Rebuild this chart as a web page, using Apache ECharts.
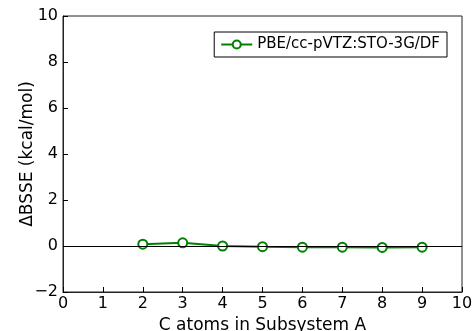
<!DOCTYPE html>
<html>
<head>
<meta charset="utf-8">
<script src="https://cdn.jsdelivr.net/npm/echarts@6/dist/echarts.min.js"></script>
<style>
  html, body { margin: 0; padding: 0; background: #fff; }
  #chart { width: 475px; height: 331px; }
</style>
</head>
<body>
<div id="chart"></div>
<script>
// C atoms in subsystem A vs BSSE difference
const carbonAtoms = [2, 3, 4, 5, 6, 7, 8, 9];
const dBsse = [0.08, 0.14, 0.0, -0.03, -0.05, -0.05, -0.06, -0.05];
const seriesName = 'PBE/cc-pVTZ:STO-3G/DF';

const chartDom = document.getElementById('chart');
const myChart = echarts.init(chartDom);

const font = 'DejaVu Sans';
const minus = (v) => String(v).replace('-', '\u2212');

const tickStyle = {
  show: true,
  inside: true,
  length: 5,
  lineStyle: { color: '#000', width: 1 },
};

const option = {
  animation: false,
  grid: {
    left: 63,
    right: 13,
    top: 16,
    bottom: 39,
    outerBoundsMode: 'none',
    containLabel: false,
    show: true,
    borderColor: '#222',
    borderWidth: 1,
  },
  xAxis: {
    type: 'value',
    min: 0,
    max: 10,
    interval: 1,
    name: 'C atoms in Subsystem A',
    nameLocation: 'middle',
    nameGap: 22,
    nameTextStyle: { fontFamily: font, fontSize: 17, color: '#000' },
    axisLine: { show: true, onZero: false, lineStyle: { color: '#222' } },
    axisTick: tickStyle,
    axisLabel: { fontFamily: font, fontSize: 16, color: '#000', margin: 4 },
    splitLine: { show: false },
  },
  yAxis: {
    type: 'value',
    min: -2,
    max: 10,
    interval: 2,
    name: '\u0394BSSE (kcal/mol)',
    nameLocation: 'middle',
    nameGap: 27,
    nameMoveOverlap: false,
    nameTextStyle: { fontFamily: font, fontSize: 17, color: '#000' },
    axisLine: { show: true, onZero: false, lineStyle: { color: '#222' } },
    axisTick: tickStyle,
    axisLabel: {
      fontFamily: font,
      fontSize: 16,
      color: '#000',
      margin: 5,
      formatter: minus,
    },
    splitLine: { show: false },
  },
  legend: {
    right: 28,
    top: 32,
    itemWidth: 31,
    itemHeight: 10,
    itemGap: 8,
    padding: [5, 7, 5, 6],
    borderColor: '#000',
    borderWidth: 1,
    borderRadius: 0,
    textStyle: { fontFamily: font, fontSize: 15, color: '#000' },
    data: [seriesName],
  },
  series: [
    {
      name: seriesName,
      type: 'line',
      data: carbonAtoms.map((c, i) => [c, dBsse[i]]),
      symbol: 'circle',
      symbolSize: 9,
      showAllSymbol: true,
      lineStyle: { color: '#008000', width: 2 },
      itemStyle: { color: '#fff', borderColor: '#008000', borderWidth: 2 },
      markLine: {
        silent: true,
        symbol: 'none',
        label: { show: false },
        lineStyle: { color: '#000', width: 1, type: 'solid' },
        data: [{ yAxis: 0 }],
      },
      z: 3,
    },
  ],
};

myChart.setOption(option);
window.addEventListener('resize', myChart.resize);
</script>
</body>
</html>
